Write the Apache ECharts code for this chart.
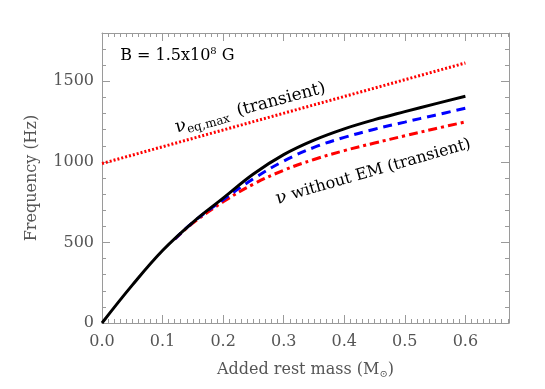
<!DOCTYPE html>
<html><head><meta charset="utf-8">
<script src="https://cdn.jsdelivr.net/npm/echarts@6/dist/echarts.min.js"></script>
<style>html,body{margin:0;padding:0;background:#fff}#c{width:545px;height:389px}</style>
</head><body><div id="c"></div>
<script>
// Data
const massBlack = [0, 0.05, 0.1, 0.15, 0.2, 0.25, 0.3, 0.35, 0.4, 0.45, 0.5, 0.55, 0.6];
const freqBlack = [0, 235, 450, 625, 775, 925, 1045, 1135, 1205, 1262, 1312, 1360, 1407];
const massColored = [0.12, 0.15, 0.2, 0.25, 0.3, 0.35, 0.4, 0.45, 0.5, 0.55, 0.6];
const freqBlue = [520, 625, 765, 895, 1005, 1090, 1152, 1203, 1247, 1290, 1333];
const freqRedDashDot = [520, 620, 752, 862, 948, 1015, 1070, 1117, 1162, 1206, 1248];
const massDotted = [0, 0.6];
const freqDotted = [990, 1614];
const xTicks = [0, 0.1, 0.2, 0.3, 0.4, 0.5, 0.6];
const yTicks = [0, 500, 1000, 1500];

const pair = (xs, ys) => xs.map((x, i) => [x, ys[i]]);
const font = 'DejaVu Serif';
const txt = '#555';
const axisCol = '#9a9a9a';

const chart = echarts.init(document.getElementById('c'));
const baseAxis = {
  axisLine: {show: true, onZero: false, lineStyle: {color: axisCol, width: 1}},
  splitLine: {show: false},
  axisTick: {show: true, inside: true, length: 8, lineStyle: {color: axisCol}},
  minorTick: {show: true, length: 4, lineStyle: {color: axisCol}},
};
const xMax = 0.672, yMax = 1800;
const xLab = v => xTicks.some(t => Math.abs(t - v) < 1e-6) ? v.toFixed(1) : '';
const yLab = v => yTicks.includes(v) ? String(v) : '';
chart.setOption({
  animation: false,
  grid: {left: 102, right: 36, top: 33, bottom: 66},
  xAxis: [
    Object.assign({}, baseAxis, {type: 'value', min: 0, max: xMax, interval: 0.1,
      minorTick: Object.assign({}, baseAxis.minorTick, {splitNumber: 10}),
      axisLabel: {formatter: xLab, showMaxLabel: false, color: txt, fontFamily: font, fontSize: 16, margin: 11},
      name: 'Added rest mass (M{s|⊙})', nameLocation: 'middle', nameGap: 38,
      nameTextStyle: {color: txt, fontFamily: font, fontSize: 16,
        rich: {s: {fontSize: 10, verticalAlign: 'bottom', color: txt, fontFamily: font, padding: [8, 0, 0, 0]}}}}),
    Object.assign({}, baseAxis, {type: 'value', position: 'top', min: 0, max: xMax, interval: 0.1,
      minorTick: Object.assign({}, baseAxis.minorTick, {splitNumber: 10}),
      axisLabel: {show: false}})
  ],
  yAxis: [
    Object.assign({}, baseAxis, {type: 'value', min: 0, max: yMax, interval: 500,
      minorTick: Object.assign({}, baseAxis.minorTick, {splitNumber: 5}),
      axisLabel: {formatter: yLab, showMaxLabel: false, color: txt, fontFamily: font, fontSize: 16, margin: 8},
      name: 'Frequency (Hz)', nameLocation: 'middle', nameGap: 62,
      nameTextStyle: {color: txt, fontFamily: font, fontSize: 16}}),
    Object.assign({}, baseAxis, {type: 'value', position: 'right', min: 0, max: yMax, interval: 500,
      minorTick: Object.assign({}, baseAxis.minorTick, {splitNumber: 5}),
      axisLabel: {show: false}})
  ],
  series: [
    {type: 'line', data: pair(massDotted, freqDotted), showSymbol: false, smooth: false,
      lineStyle: {color: '#ff0000', width: 3, type: [2, 2]}},
    {type: 'line', data: pair(massColored, freqRedDashDot), showSymbol: false, smooth: 0.4,
      lineStyle: {color: '#ff0000', width: 3, type: [9, 4, 3, 4]}},
    {type: 'line', data: pair(massColored, freqBlue), showSymbol: false, smooth: 0.4,
      lineStyle: {color: '#0000ff', width: 3, type: [9, 6]}},
    {type: 'line', data: pair(massBlack, freqBlack), showSymbol: false, smooth: 0.4,
      lineStyle: {color: '#000000', width: 3}, z: 3}
  ]
});

const p1 = chart.convertToPixel({xAxisIndex: 0, yAxisIndex: 0}, [0.245, 1335]);
const p2 = chart.convertToPixel({xAxisIndex: 0, yAxisIndex: 0}, [0.448, 940]);
const p3 = chart.convertToPixel({xAxisIndex: 0, yAxisIndex: 0}, [0.03, 1660]);
const rot = a => a * Math.PI / 180;
const richBase = {
  n: {fontSize: 18, fontFamily: font, color: txt, verticalAlign: 'middle'},
  s: {fontSize: 12, fontFamily: font, color: txt, verticalAlign: 'bottom', padding: [10, 0, 0, 0]},
  t: {fontSize: 17, fontFamily: font, color: txt, verticalAlign: 'middle'}
};
const richB = Object.assign({}, richBase, {
  t: {fontSize: 16, fontFamily: font, color: txt, verticalAlign: 'middle'}
});
chart.setOption({
  graphic: [
    {type: 'text', x: p1[0], y: p1[1], rotation: rot(15),
      style: {text: '{n|ν}{s|eq,max} {t| (transient)}', rich: richBase, align: 'center', verticalAlign: 'middle'}},
    {type: 'text', x: p2[0], y: p2[1], rotation: rot(16),
      style: {text: '{n|ν}{t| without EM (transient)}', rich: richB, align: 'center', verticalAlign: 'middle'}},
    {type: 'text', x: p3[0], y: p3[1],
      style: {text: '{t|B = 1.5x10}{u|8}{t| G}', align: 'left', verticalAlign: 'middle',
        rich: {t: {fontSize: 16, fontFamily: font, color: txt, verticalAlign: 'middle'},
               u: {fontSize: 10, fontFamily: font, color: txt, verticalAlign: 'top', padding: [0, 0, 8, 0]}}}}
  ]
});
</script></body></html>
